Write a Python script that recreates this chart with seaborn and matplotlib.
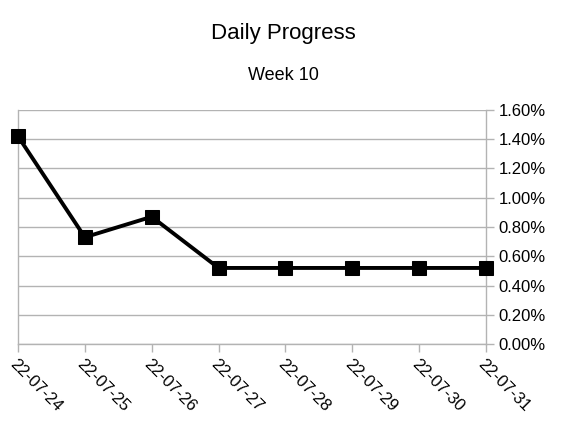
import matplotlib
matplotlib.use("Agg")
import matplotlib.pyplot as plt
import seaborn as sns
import pandas as pd
from matplotlib.ticker import FuncFormatter, MultipleLocator

dates = ["22-07-24", "22-07-25", "22-07-26", "22-07-27", "22-07-28", "22-07-29", "22-07-30", "22-07-31"]
progress = [1.42, 0.73, 0.87, 0.52, 0.52, 0.52, 0.52, 0.52]  # percent

sns.set_theme(style="white")
plt.rcParams['font.family'] = ['Liberation Sans', 'DejaVu Sans']

df = pd.DataFrame({"idx": range(len(dates)), "progress": progress})

fig = plt.figure(figsize=(5.67, 4.26), dpi=100)
ax = fig.add_axes([18/567, 1-344/426, (486-18)/567, (344-110)/426])

sns.lineplot(data=df, x="idx", y="progress", ax=ax, color="black", linewidth=2.8,
             marker="s", markersize=9.5, markeredgecolor="black", markerfacecolor="black",
             clip_on=False, zorder=5)

ax.set_xlim(0, len(dates)-1)
ax.set_ylim(0, 1.6)
ax.yaxis.set_major_locator(MultipleLocator(0.2))
ax.yaxis.set_major_formatter(FuncFormatter(lambda v, p: f"{v:.2f}%"))
ax.yaxis.tick_right()
ax.set_xticks(range(len(dates)))
ax.set_xticklabels(dates, rotation=-45, ha="left", va="top", rotation_mode="anchor")
ax.set_xlabel("")
ax.set_ylabel("")

gray = "#b3b3b3"
ax.grid(axis="y", color=gray, linewidth=1)
ax.set_axisbelow(True)
ax.spines["top"].set_visible(False)
for s in ["left", "right", "bottom"]:
    ax.spines[s].set_color(gray)
    ax.spines[s].set_linewidth(1)
ax.tick_params(axis="both", which="major", direction="out", length=6, width=1, color=gray,
               labelsize=12, labelcolor="black", bottom=True, right=True, left=False)
ax.tick_params(axis="x", pad=3)
ax.tick_params(axis="y", pad=3)

fig.text(283/567, 1-33/426, "Daily Progress", ha="center", va="center", fontsize=16, color="black")
fig.text(283/567, 1-76/426, "Week 10", ha="center", va="center", fontsize=13, color="black")

fig.savefig("out.png", dpi=100)
